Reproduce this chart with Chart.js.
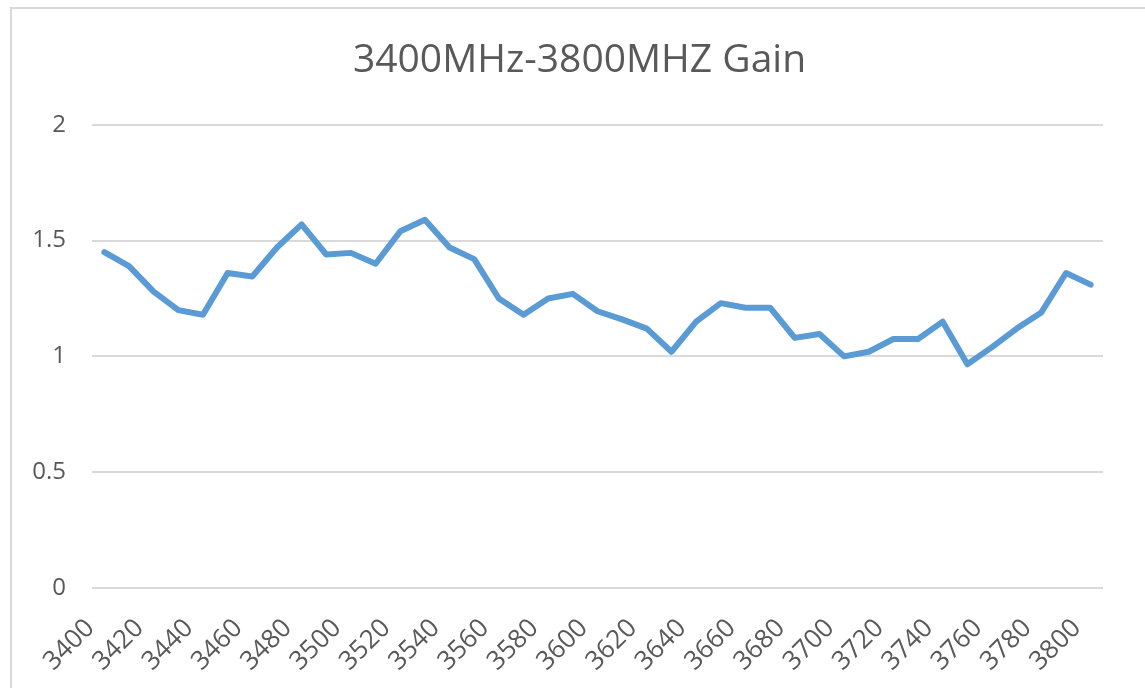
<!DOCTYPE html>
<html>
<head>
<meta charset="utf-8">
<script src="https://cdn.jsdelivr.net/npm/chart.js@4"></script>
<style>
  html, body { margin: 0; padding: 0; background: #fff; }
  #frame {
    position: absolute; left: 10px; top: 7px; width: 1135px; height: 681px;
    border-left: 2px solid #d9d9d9; border-top: 2px solid #d9d9d9;
  }
  #wrap { position: absolute; left: 0; top: 0; width: 1145px; height: 688px; }
</style>
</head>
<body>
<div id="frame"></div>
<div id="wrap"><canvas id="gain_chart" width="1145" height="688"></canvas></div>
<script>
// frequency steps (MHz), one point every 10 MHz
const frequencies = ['3400', '3410', '3420', '3430', '3440', '3450', '3460', '3470', '3480', '3490',
                     '3500', '3510', '3520', '3530', '3540', '3550', '3560', '3570', '3580', '3590',
                     '3600', '3610', '3620', '3630', '3640', '3650', '3660', '3670', '3680', '3690',
                     '3700', '3710', '3720', '3730', '3740', '3750', '3760', '3770', '3780', '3790',
                     '3800']

// gain
const gain = [1.45, 1.39, 1.28, 1.20, 1.18, 1.36, 1.345, 1.47, 1.57, 1.44,
              1.447, 1.40, 1.54, 1.59, 1.47, 1.42, 1.25, 1.18, 1.25, 1.27,
              1.195, 1.16, 1.12, 1.02, 1.15, 1.23, 1.21, 1.21, 1.08, 1.097,
              1.00, 1.02, 1.075, 1.075, 1.15, 0.966, 1.04, 1.12, 1.19, 1.36,
              1.31]

const yTicks = [0, 0.5, 1, 1.5, 2]

const textColor = '#595959'
const fontFamily = '"Open Sans", "Noto Sans", sans-serif'

// title sits centred on the whole frame, not on the padded area
const titleShift = {
    id: 'titleShift',
    afterLayout(chart) {
        if (chart.titleBlock) chart.titleBlock.left += 56
    }
}

var ctx = document.getElementById('gain_chart').getContext('2d')

var gain_chart = new Chart(ctx, {
    type: 'line',
    data: {
        labels: frequencies,
        datasets: [{
            label: 'Gain',
            data: gain,
            borderColor: '#5b9bd5',
            borderWidth: 6,
            pointRadius: 0,
            tension: 0,
            borderJoinStyle: 'round',
            borderCapStyle: 'round',
            fill: false
        }]
    },
    options: {
        responsive: false,
        animation: false,
        layout: {
            padding: { left: 0, right: 42, top: 0, bottom: 0 }
        },
        plugins: {
            legend: { display: false },
            tooltip: { enabled: false },
            title: {
                display: true,
                text: '3400MHz-3800MHZ Gain',
                color: textColor,
                font: { family: fontFamily, size: 39, weight: 'normal', lineHeight: 1.2 },
                padding: { top: 37, bottom: 41 }
            }
        },
        scales: {
            x: {
                offset: true,
                grid: { display: false },
                border: { display: false },
                ticks: {
                    autoSkip: false,
                    minRotation: 45,
                    maxRotation: 45,
                    padding: 17,
                    labelOffset: -14,
                    color: textColor,
                    font: { family: fontFamily, size: 26 },
                    callback: function (value, index) {
                        return index % 2 === 0 ? this.getLabelForValue(value) : ''
                    }
                },
                afterFit: function (scale) { scale.height = 100 }
            },
            y: {
                min: 0,
                max: 2,
                afterBuildTicks: function (scale) {
                    scale.ticks = yTicks.map(v => ({ value: v }))
                },
                grid: { color: '#d9d9d9', lineWidth: 2, drawTicks: false },
                border: { display: false },
                ticks: {
                    padding: 26,
                    color: textColor,
                    font: { family: fontFamily, size: 24 },
                    callback: function (value) { return String(value) }
                },
                afterFit: function (scale) { scale.width = 92 }
            }
        }
    },
    plugins: [titleShift]
})
</script>
</body>
</html>
